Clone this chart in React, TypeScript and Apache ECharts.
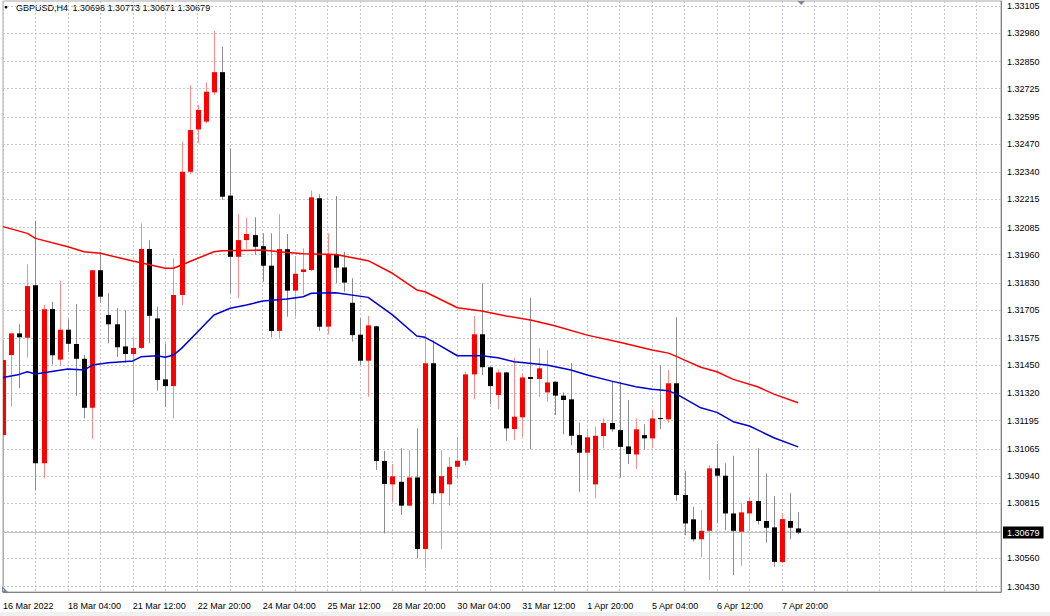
import React, { useEffect, useRef } from 'react';
import * as echarts from 'echarts';

// GBPUSD H4 – MetaTrader style candles with two moving averages

const symbolTitle = 'GBPUSD,H4';
const lastQuote = '1.30698 1.30773 1.30671 1.30679';
const lastPrice = 1.30679;
const slotCount = 124; // visible bar slots incl. empty right margin

// time labels, one every 8 bars
const dateLabels = [
  '16 Mar 2022', '18 Mar 04:00', '21 Mar 12:00', '22 Mar 20:00', '24 Mar 04:00',
  '25 Mar 12:00', '28 Mar 20:00', '30 Mar 04:00', '31 Mar 12:00', '1 Apr 20:00',
  '5 Apr 04:00', '6 Apr 12:00', '7 Apr 20:00',
];

// price scale labels (bottom -> top); blank one sits under the current price box
const priceTicks = [
  '1.30430', '1.30560', '1.30687', '1.30815', '1.30940', '1.31065', '1.31195', '1.31320',
  '1.31450', '1.31575', '1.31705', '1.31830', '1.31960', '1.32085', '1.32215', '1.32340',
  '1.32470', '1.32595', '1.32725', '1.32850', '1.32980', '1.33105',
];
const hiddenTick = '1.30687';

const opens = [
  1.31128, 1.31497, 1.31597, 1.31577, 1.31819, 1.30998, 1.31709, 1.31476, 1.31614, 1.31548,
  1.31480, 1.31254, 1.31888, 1.31682, 1.31639, 1.31537, 1.31502, 1.31530, 1.31986, 1.31666,
  1.31385, 1.31354, 1.31774, 1.32342, 1.32537, 1.32573, 1.32708, 1.32801, 1.32232, 1.31950,
  1.32027, 1.32050, 1.31999, 1.31909, 1.31608, 1.31985, 1.31794, 1.31880, 1.31889, 1.32220,
  1.31628, 1.31961, 1.31901, 1.31738, 1.31591, 1.31471, 1.31630, 1.31009, 1.30901, 1.30913,
  1.30803, 1.30933, 1.30603, 1.31459, 1.30860, 1.30901, 1.30982, 1.31010, 1.31408, 1.31593,
  1.31441, 1.31313, 1.31417, 1.31156, 1.31210, 1.31396, 1.31387, 1.31325, 1.31374, 1.31310,
  1.31293, 1.31128, 1.31047, 1.30901, 1.31124, 1.31184, 1.31151, 1.31076, 1.31039, 1.31128,
  1.31113, 1.31207, 1.31201, 1.31367, 1.30852, 1.30740, 1.30648, 1.30687, 1.30975, 1.30941,
  1.30767, 1.30683, 1.30767, 1.30824, 1.30732, 1.30703, 1.30543, 1.30732, 1.30698,
];
const highs = [
  1.31566, 1.31600, 1.31639, 1.31915, 1.32116, 1.31728, 1.31742, 1.31840, 1.31662, 1.31732,
  1.31497, 1.31890, 1.31973, 1.31782, 1.31714, 1.31705, 1.31582, 1.32104, 1.32026, 1.31720,
  1.31551, 1.31943, 1.32481, 1.32742, 1.32650, 1.32754, 1.32991, 1.32918, 1.32450, 1.32147,
  1.32130, 1.32132, 1.32058, 1.32058, 1.32146, 1.32055, 1.31954, 1.31989, 1.32255, 1.32238,
  1.32058, 1.32230, 1.31973, 1.31851, 1.31666, 1.31678, 1.31632, 1.31055, 1.30995, 1.31067,
  1.31059, 1.31159, 1.31597, 1.31566, 1.31059, 1.31028, 1.31118, 1.31420, 1.31677, 1.31828,
  1.31443, 1.31431, 1.31420, 1.31485, 1.31413, 1.31761, 1.31528, 1.31520, 1.31376, 1.31325,
  1.31459, 1.31185, 1.31159, 1.31167, 1.31205, 1.31374, 1.31371, 1.31290, 1.31205, 1.31178,
  1.31244, 1.31451, 1.31428, 1.31671, 1.30962, 1.30798, 1.30783, 1.30990, 1.31087, 1.30998,
  1.31033, 1.30814, 1.30841, 1.31067, 1.30952, 1.30847, 1.30770, 1.30862, 1.30773,
];
const lows = [
  1.30437, 1.31259, 1.31344, 1.31485, 1.30875, 1.30929, 1.31454, 1.31447, 1.31512, 1.31310,
  1.31205, 1.31111, 1.31738, 1.31551, 1.31489, 1.31462, 1.31271, 1.31525, 1.31551, 1.31333,
  1.31259, 1.31205, 1.31728, 1.32330, 1.32473, 1.32565, 1.32696, 1.32212, 1.31782, 1.31759,
  1.31986, 1.31958, 1.31835, 1.31579, 1.31574, 1.31674, 1.31674, 1.31777, 1.31885, 1.31608,
  1.31593, 1.31828, 1.31789, 1.31559, 1.31451, 1.31305, 1.30967, 1.30675, 1.30821, 1.30760,
  1.30800, 1.30560, 1.30514, 1.30810, 1.30603, 1.30803, 1.30926, 1.30990, 1.31294, 1.31405,
  1.31270, 1.31247, 1.31102, 1.31105, 1.31121, 1.31063, 1.31305, 1.31282, 1.31221, 1.31132,
  1.31082, 1.30867, 1.30921, 1.30837, 1.31067, 1.31144, 1.30932, 1.30995, 1.30972, 1.31063,
  1.31067, 1.31156, 1.31185, 1.30826, 1.30667, 1.30637, 1.30567, 1.30460, 1.30721, 1.30690,
  1.30483, 1.30525, 1.30687, 1.30717, 1.30632, 1.30521, 1.30540, 1.30648, 1.30671,
];
const closes = [
  1.31474, 1.31597, 1.31579, 1.31815, 1.30998, 1.31708, 1.31496, 1.31614, 1.31549, 1.31480,
  1.31254, 1.31888, 1.31766, 1.31639, 1.31533, 1.31502, 1.31530, 1.31986, 1.31678, 1.31382,
  1.31354, 1.31774, 1.32342, 1.32534, 1.32627, 1.32711, 1.32801, 1.32227, 1.31950, 1.32027,
  1.32055, 1.31996, 1.31909, 1.31608, 1.31986, 1.31794, 1.31872, 1.31892, 1.32224, 1.31628,
  1.31961, 1.31900, 1.31831, 1.31589, 1.31471, 1.31634, 1.31009, 1.30903, 1.30938, 1.30803,
  1.30933, 1.30603, 1.31459, 1.30860, 1.30939, 1.30982, 1.31010, 1.31408, 1.31593, 1.31441,
  1.31354, 1.31417, 1.31159, 1.31213, 1.31394, 1.31387, 1.31436, 1.31371, 1.31310, 1.31290,
  1.31125, 1.31047, 1.31118, 1.31125, 1.31184, 1.31155, 1.31074, 1.31041, 1.31155, 1.31113,
  1.31205, 1.31202, 1.31367, 1.30852, 1.30721, 1.30648, 1.30687, 1.30975, 1.30941, 1.30767,
  1.30687, 1.30772, 1.30824, 1.30732, 1.30701, 1.30544, 1.30741, 1.30701, 1.30679,
];

// moving averages: [bar index, price]
const maSlow = [
  [0, 1.32089], [3, 1.32058], [4, 1.32035], [8, 1.31996], [10, 1.31973], [12, 1.31966],
  [16, 1.31931], [20, 1.31897], [21, 1.31897], [22, 1.31912], [24, 1.31943], [26, 1.31973],
  [27, 1.31978], [32, 1.31981], [34, 1.31973], [37, 1.31964], [41, 1.31961], [45, 1.31932],
  [48, 1.31874], [51, 1.31797], [52, 1.31789], [56, 1.31715], [59, 1.31700], [62, 1.31677],
  [65, 1.31659], [68, 1.31632], [72, 1.31589], [76, 1.31556], [80, 1.31520], [82, 1.31506],
  [83, 1.31491], [84, 1.31474], [86, 1.31441], [88, 1.31420], [90, 1.31385], [93, 1.31351],
  [95, 1.31317], [98, 1.31277],
];
const maFast = [
  [0, 1.31394], [2, 1.31408], [3, 1.31420], [4, 1.31410], [8, 1.31433], [10, 1.31428],
  [11, 1.31451], [13, 1.31462], [16, 1.31470], [17, 1.31489], [19, 1.31494], [20, 1.31487],
  [21, 1.31497], [22, 1.31528], [24, 1.31605], [26, 1.31682], [28, 1.31713], [30, 1.31728],
  [32, 1.31746], [35, 1.31755], [37, 1.31766], [38, 1.31782], [41, 1.31784], [45, 1.31763],
  [48, 1.31682], [51, 1.31585], [52, 1.31579], [53, 1.31559], [56, 1.31494], [59, 1.31494],
  [61, 1.31485], [63, 1.31466], [67, 1.31451], [70, 1.31428], [72, 1.31405], [75, 1.31377],
  [78, 1.31351], [80, 1.31340], [82, 1.31333], [83, 1.31317], [84, 1.31296], [86, 1.31254],
  [88, 1.31233], [90, 1.31190], [92, 1.31170], [95, 1.31116], [98, 1.31074],
];

const FONT = 'Liberation Sans';
const GRID_COLOR = '#bfc6d1';

const Chart: React.FC = () => {
  const chartRef = useRef<HTMLDivElement>(null);

  useEffect(() => {
    if (!chartRef.current) return;
    const chart = echarts.init(chartRef.current, undefined, { renderer: 'svg' });

    const slots = Array.from({ length: slotCount }, (_, i) => String(i));
    const candles = opens.map((o, i) => [i, o, highs[i], lows[i], closes[i]]);

    const gridLines: any[] = priceTicks.map((t) => ({
      yAxis: parseFloat(t),
      label: { formatter: t === hiddenTick ? '' : t },
    }));
    gridLines.push({
      yAxis: lastPrice,
      lineStyle: { type: 'solid', color: '#c4c4c4', width: 1 },
      label: {
        formatter: lastPrice.toFixed(5),
        color: '#fff',
        backgroundColor: '#000',
        padding: [2, 4, 1, 4],
        distance: 2,
      },
    });

    const option: echarts.EChartsOption = {
      animation: false,
      backgroundColor: '#fff',
      grid: {
        left: 2,
        right: 49,
        top: 1,
        bottom: 24,
        show: true,
        borderColor: '#a8a8a8',
        borderWidth: 1,
      },
      xAxis: {
        type: 'category',
        data: slots,
        boundaryGap: false,
        axisLine: { lineStyle: { color: '#808080', width: 1 } },
        axisTick: { show: false },
        axisLabel: {
          interval: 7,
          align: 'left',
          margin: 9,
          color: '#000',
          fontSize: 9,
          fontFamily: FONT,
          showMaxLabel: false,
          formatter: (_v: string, idx: number) => (idx % 8 === 0 ? dateLabels[idx / 8] ?? '' : ''),
        },
        splitLine: {
          show: true,
          interval: 3,
          lineStyle: { color: GRID_COLOR, type: [2, 2], width: 1 },
        },
      },
      yAxis: {
        type: 'value',
        position: 'right',
        min: 1.30405,
        max: 1.33129,
        axisLine: { show: true, onZero: false, lineStyle: { color: '#808080', width: 1 } },
        axisTick: { show: false },
        axisLabel: { show: false },
        splitLine: { show: false },
      },
      graphic: [
        { type: 'rect', shape: { x: 0, y: 612, width: 1050, height: 4 }, style: { fill: '#f0f0f0' }, silent: true },
        { type: 'polygon', shape: { points: [[3.5, 6], [8.5, 6], [6, 9]] }, style: { fill: '#000' }, silent: true },
        {
          type: 'text', x: 16, y: 3,
          style: { text: symbolTitle, fill: '#000', font: `9px "${FONT}"` },
          silent: true,
        },
        {
          type: 'text', x: 72.5, y: 3,
          style: { text: lastQuote, fill: '#000', font: `9px "${FONT}"` },
          silent: true,
        },
        { type: 'polygon', shape: { points: [[797.5, 1], [805, 1], [801.2, 5]] }, style: { fill: '#7d8896' }, silent: true },
        { type: 'polygon', shape: { points: [[2, 586], [2, 592], [8, 592]] }, style: { fill: '#7d8896' }, silent: true },
      ],
      series: [
        {
          name: 'levels',
          type: 'line',
          data: [],
          z: 1,
          silent: true,
          markLine: {
            silent: true,
            symbol: 'none',
            precision: 5,
            animation: false,
            lineStyle: { color: GRID_COLOR, type: [2, 2], width: 1 },
            label: {
              position: 'end',
              distance: 6,
              color: '#000',
              fontSize: 9,
              fontFamily: FONT,
            },
            data: gridLines,
          },
        },
        {
          name: 'GBPUSD',
          type: 'custom',
          z: 10,
          clip: true,
          data: candles,
          encode: { x: 0, y: [1, 2, 3, 4] },
          renderItem: (_params: any, api: any) => {
            const i = api.value(0);
            const o = api.value(1);
            const h = api.value(2);
            const l = api.value(3);
            const c = api.value(4);
            const [x, yo] = api.coord([i, o]);
            const yc = api.coord([i, c])[1];
            const yh = api.coord([i, h])[1];
            const yl = api.coord([i, l])[1];
            const up = c >= o;
            const cx = Math.round(x) + 0.5;
            const top = Math.min(yo, yc);
            const bottom = Math.max(yo, yc);
            return {
              type: 'group',
              children: [
                {
                  type: 'line',
                  shape: { x1: cx, y1: yh, x2: cx, y2: yl },
                  style: { stroke: up ? '#ff8c8c' : '#8c8c8c', lineWidth: 1 },
                },
                {
                  type: 'rect',
                  shape: { x: Math.round(x) - 2, y: top, width: 5, height: Math.max(bottom - top, 1) },
                  style: { fill: up ? '#ff0000' : '#000000' },
                },
              ],
            };
          },
        },
        {
          name: 'MA slow',
          type: 'line',
          z: 11,
          data: maSlow,
          showSymbol: false,
          connectNulls: true,
          lineStyle: { color: '#ff0000', width: 1.5 },
          silent: true,
        },
        {
          name: 'MA fast',
          type: 'line',
          z: 11,
          data: maFast,
          showSymbol: false,
          connectNulls: true,
          lineStyle: { color: '#0000d0', width: 1.5 },
          silent: true,
        },
      ],
    };

    chart.setOption(option);

    const handleResize = () => chart.resize();
    window.addEventListener('resize', handleResize);

    return () => {
      window.removeEventListener('resize', handleResize);
      chart.dispose();
    };
  }, []);

  return (
    <div
      ref={chartRef}
      style={{ position: 'absolute', left: 0, top: 0, width: 1050, height: 616, background: '#fff' }}
    />
  );
};

export default function App() {
  return <Chart />;
}
